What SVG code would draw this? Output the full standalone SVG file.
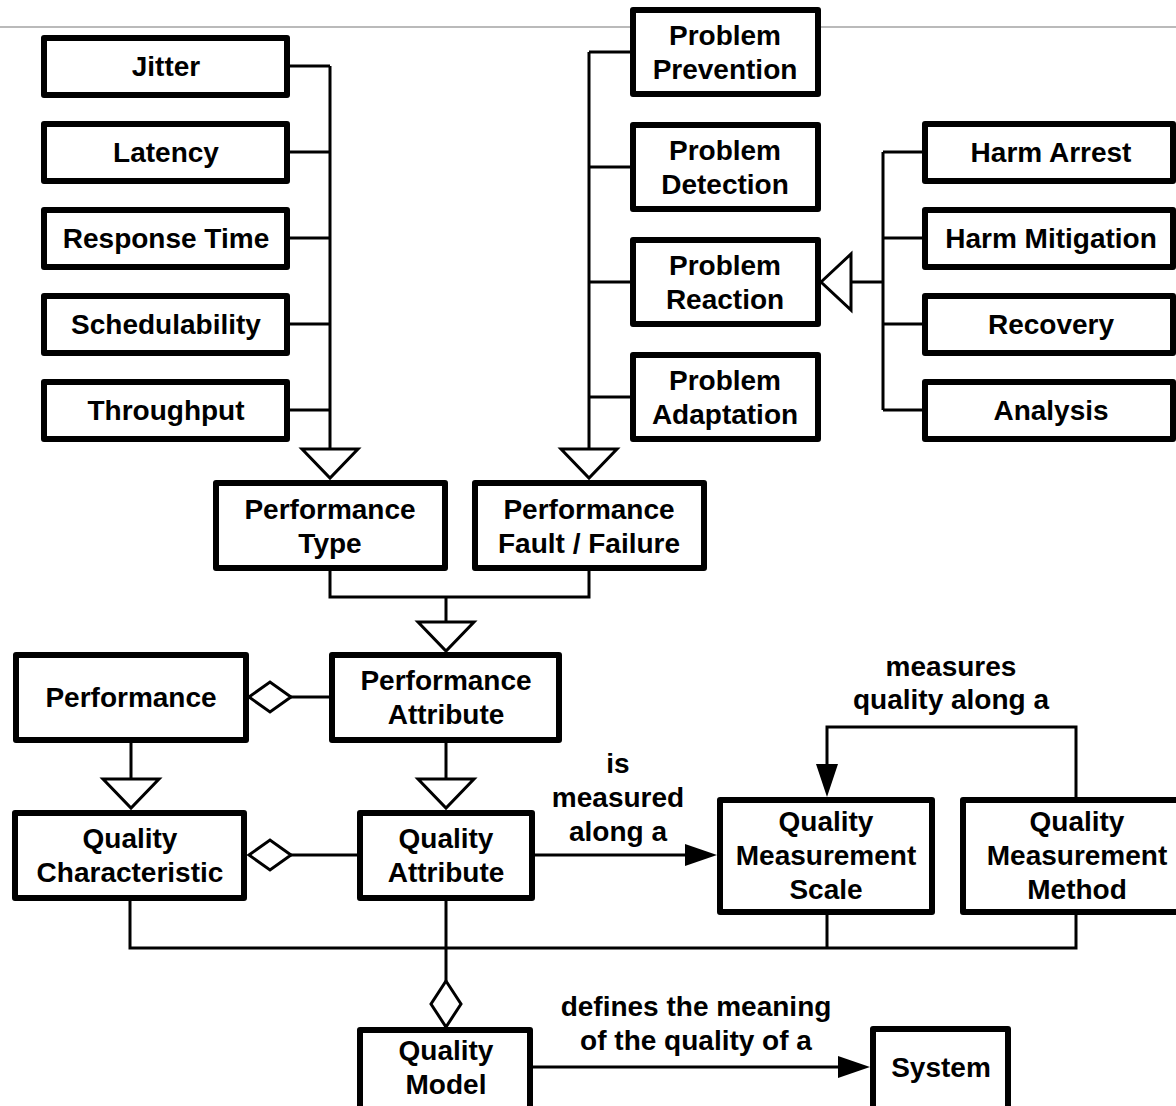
<svg xmlns="http://www.w3.org/2000/svg" width="1176" height="1106" viewBox="0 0 1176 1106">
  <style>
    .box { fill: #fff; stroke: #000; stroke-width: 6; stroke-linejoin: round; }
    .lbl { font-family: "Liberation Sans", Arial, sans-serif; font-weight: bold; font-size: 28px; fill: #000; text-anchor: middle; }
    .wire { fill: none; stroke: #000; stroke-width: 3; }
    .hollow { fill: #fff; stroke: #000; stroke-width: 3; stroke-linejoin: miter; }
    .solid { fill: #000; stroke: none; }
  </style>

  <rect width="1176" height="1106" fill="#fff"/>
  <!-- page rule -->
  <path d="M0,27 H1176" stroke="#a3a3a3" stroke-width="1.5" fill="none"/>

  <!-- connectors -->
  <g id="connectors">
    <!-- performance types -->
    <path class="wire" d="M290,66 H330 M290,152 H330 M290,238 H330 M290,324 H330 M290,410 H330 M330,66 V449"/>
    <path class="hollow" d="M302,449 H358 L330,478 Z"/>
    <!-- problem handling -->
    <path class="wire" d="M589,52 V449 M589,52 H630 M589,167 H630 M589,282 H630 M589,397 H630"/>
    <path class="hollow" d="M561,449 H617 L589,478 Z"/>
    <!-- problem reaction kinds -->
    <path class="wire" d="M883,152 V410 M883,152 H922 M883,238 H922 M883,324 H922 M883,410 H922 M851,282 H883"/>
    <path class="hollow" d="M821,282 L851,254 V310 Z"/>
    <!-- performance attribute generalisation -->
    <path class="wire" d="M330,571 V597 H589 V571 M446,597 V622"/>
    <path class="hollow" d="M418,622 H474 L446,651 Z"/>
    <!-- performance aggregation -->
    <path class="wire" d="M291,697 H329"/>
    <path class="hollow" d="M249,697 L270,682 L291,697 L270,712 Z"/>
    <!-- quality generalisations -->
    <path class="wire" d="M131,743 V779 M446,743 V779"/>
    <path class="hollow" d="M103,779 H159 L131,808 Z"/>
    <path class="hollow" d="M418,779 H474 L446,808 Z"/>
    <!-- quality aggregation -->
    <path class="wire" d="M291,855 H357"/>
    <path class="hollow" d="M249,855 L270,840 L291,855 L270,870 Z"/>
    <!-- is measured along a -->
    <path class="wire" d="M535,855 H690"/>
    <path class="solid" d="M717,855 L685,844 V866 Z"/>
    <!-- measures quality along a -->
    <path class="wire" d="M1076,797 V727 H827 V770"/>
    <path class="solid" d="M827,797 L816,764 H838 Z"/>
    <!-- quality model bus -->
    <path class="wire" d="M130,901 V948 H1076 V915 M827,915 V948 M446,901 V981"/>
    <path class="hollow" d="M446,981 L461,1004 L446,1027 L431,1004 Z"/>
    <!-- defines the meaning of the quality of a -->
    <path class="wire" d="M533,1067 H845"/>
    <path class="solid" d="M870,1067 L838,1056 V1078 Z"/>
  </g>

  <!-- connector labels -->
  <g id="labels">
    <text class="lbl" x="618" y="773">is</text>
    <text class="lbl" x="618" y="807">measured</text>
    <text class="lbl" x="618" y="841">along a</text>
    <text class="lbl" x="951" y="676">measures</text>
    <text class="lbl" x="951" y="709">quality along a</text>
    <text class="lbl" x="696" y="1016">defines the meaning</text>
    <text class="lbl" x="696" y="1050">of the quality of a</text>
  </g>

  <!-- performance types -->
  <g id="jitter"><rect class="box" x="44" y="38" width="243" height="57"/><text class="lbl" x="166" y="76">Jitter</text></g>
  <g id="latency"><rect class="box" x="44" y="124" width="243" height="57"/><text class="lbl" x="166" y="162">Latency</text></g>
  <g id="response-time"><rect class="box" x="44" y="210" width="243" height="57"/><text class="lbl" x="166" y="248">Response Time</text></g>
  <g id="schedulability"><rect class="box" x="44" y="296" width="243" height="57"/><text class="lbl" x="166" y="334">Schedulability</text></g>
  <g id="throughput"><rect class="box" x="44" y="382" width="243" height="57"/><text class="lbl" x="166" y="420">Throughput</text></g>

  <!-- problem handling -->
  <g id="problem-prevention"><rect class="box" x="633" y="10" width="185" height="84"/><text class="lbl" x="725" y="45">Problem</text><text class="lbl" x="725" y="79">Prevention</text></g>
  <g id="problem-detection"><rect class="box" x="633" y="125" width="185" height="84"/><text class="lbl" x="725" y="160">Problem</text><text class="lbl" x="725" y="194">Detection</text></g>
  <g id="problem-reaction"><rect class="box" x="633" y="240" width="185" height="84"/><text class="lbl" x="725" y="275">Problem</text><text class="lbl" x="725" y="309">Reaction</text></g>
  <g id="problem-adaptation"><rect class="box" x="633" y="355" width="185" height="84"/><text class="lbl" x="725" y="390">Problem</text><text class="lbl" x="725" y="424">Adaptation</text></g>

  <!-- reaction kinds -->
  <g id="harm-arrest"><rect class="box" x="925" y="124" width="248" height="57"/><text class="lbl" x="1051" y="162">Harm Arrest</text></g>
  <g id="harm-mitigation"><rect class="box" x="925" y="210" width="248" height="57"/><text class="lbl" x="1051" y="248">Harm Mitigation</text></g>
  <g id="recovery"><rect class="box" x="925" y="296" width="248" height="57"/><text class="lbl" x="1051" y="334">Recovery</text></g>
  <g id="analysis"><rect class="box" x="925" y="382" width="248" height="57"/><text class="lbl" x="1051" y="420">Analysis</text></g>

  <!-- performance -->
  <g id="performance-type"><rect class="box" x="216" y="483" width="229" height="85"/><text class="lbl" x="330" y="519">Performance</text><text class="lbl" x="330" y="553">Type</text></g>
  <g id="performance-fault-failure"><rect class="box" x="475" y="483" width="229" height="85"/><text class="lbl" x="589" y="519">Performance</text><text class="lbl" x="589" y="553">Fault / Failure</text></g>
  <g id="performance"><rect class="box" x="16" y="655" width="230" height="85"/><text class="lbl" x="131" y="707">Performance</text></g>
  <g id="performance-attribute"><rect class="box" x="332" y="655" width="227" height="85"/><text class="lbl" x="446" y="690">Performance</text><text class="lbl" x="446" y="724">Attribute</text></g>

  <!-- quality -->
  <g id="quality-characteristic"><rect class="box" x="15" y="813" width="229" height="85"/><text class="lbl" x="130" y="848">Quality</text><text class="lbl" x="130" y="882">Characteristic</text></g>
  <g id="quality-attribute"><rect class="box" x="360" y="813" width="172" height="85"/><text class="lbl" x="446" y="848">Quality</text><text class="lbl" x="446" y="882">Attribute</text></g>
  <g id="quality-measurement-scale"><rect class="box" x="720" y="800" width="212" height="112"/><text class="lbl" x="826" y="831">Quality</text><text class="lbl" x="826" y="865">Measurement</text><text class="lbl" x="826" y="899">Scale</text></g>
  <g id="quality-measurement-method"><rect class="box" x="963" y="800" width="228" height="112"/><text class="lbl" x="1077" y="831">Quality</text><text class="lbl" x="1077" y="865">Measurement</text><text class="lbl" x="1077" y="899">Method</text></g>
  <g id="quality-model"><rect class="box" x="360" y="1030" width="170" height="84"/><text class="lbl" x="446" y="1060">Quality</text><text class="lbl" x="446" y="1094">Model</text></g>
  <g id="system"><rect class="box" x="873" y="1029" width="135" height="84"/><text class="lbl" x="941" y="1077">System</text></g>
</svg>
